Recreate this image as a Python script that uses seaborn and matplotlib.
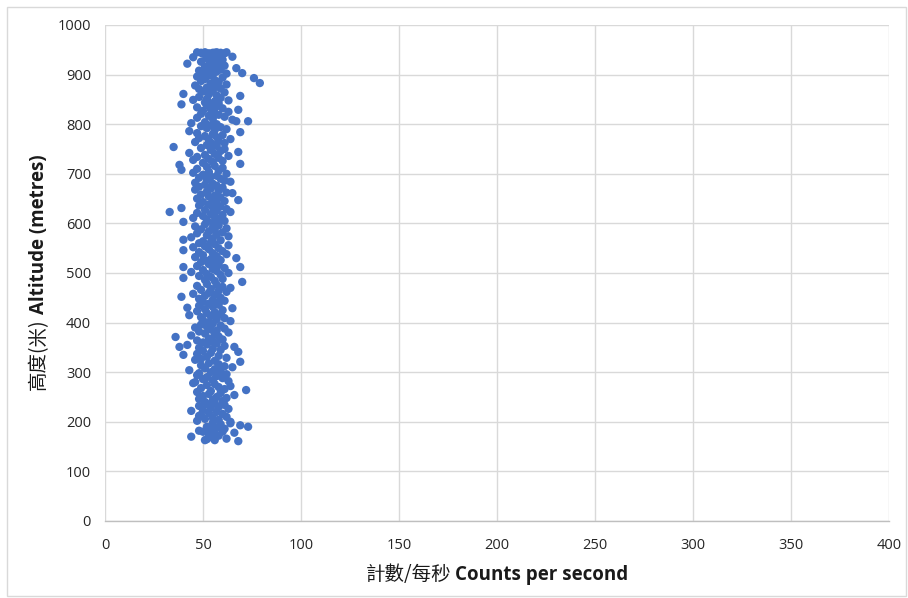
import matplotlib
matplotlib.use("Agg")
import matplotlib.pyplot as plt
import seaborn as sns
import pandas as pd
from matplotlib.patches import Rectangle

# ---------------- data ----------------
altitude_m = [
    # 930-946
    945, 944, 945, 943, 944, 945, 944, 943, 945, 944, 942, 941, 938, 936, 935, 933, 930, 931,
    # 900-929
    928, 926, 923, 922, 920, 918, 916, 914, 913, 912, 910, 908, 906, 905, 903, 902, 900, 901,
    # 870-899
    898, 896, 894, 893, 891, 889, 887, 885, 883, 882, 880, 878, 876, 874, 872, 871,
    # 840-869
    868, 866, 864, 861, 860, 858, 857, 855, 853, 851, 849, 848, 846, 844, 842, 840, 841,
    # 800-839
    838, 836, 834, 832, 830, 829, 827, 825, 823, 821, 819, 817, 815, 813, 811, 809, 806, 806, 804, 802, 800,
    # 760-799
    798, 796, 794, 792, 790, 788, 786, 784, 782, 780, 778, 776, 774, 772, 770, 768, 766, 764, 762, 760,
    # 720-759
    758, 756, 754, 752, 750, 748, 746, 744, 742, 740, 738, 736, 734, 732, 730, 728, 726, 724, 722, 720,
    # 680-719
    718, 716, 714, 712, 710, 708, 706, 704, 702, 700, 698, 696, 694, 692, 690, 688, 686, 684, 682, 680,
    # 640-679
    678, 676, 674, 672, 670, 668, 666, 664, 662, 661, 658, 656, 654, 652, 650, 648, 647, 645, 643, 641,
    # 600-639
    638, 636, 634, 632, 631, 629, 627, 625, 623, 623, 621, 619, 617, 615, 613, 611, 609, 607, 605, 603, 601,
    # 560-599
    598, 596, 594, 592, 590, 588, 586, 584, 582, 580, 578, 576, 574, 572, 570, 567, 566, 564, 562, 560,
    # 520-559
    558, 556, 554, 552, 550, 548, 546, 544, 542, 540, 538, 536, 534, 532, 530, 528, 526, 524, 522, 520,
    # 480-519
    518, 516, 514, 512, 512, 510, 508, 506, 504, 502, 500, 498, 496, 494, 492, 490, 488, 486, 484, 482,
    # 440-479
    478, 476, 474, 472, 470, 468, 466, 464, 462, 460, 458, 456, 454, 452, 450, 448, 446, 444, 442, 440,
    # 400-439
    438, 436, 434, 432, 430, 429, 427, 425, 423, 421, 419, 417, 415, 413, 411, 409, 407, 405, 403, 401,
    # 360-399
    398, 396, 394, 392, 390, 388, 386, 384, 382, 380, 378, 376, 374, 372, 371, 368, 366, 364, 362, 360,
    # 320-359
    358, 356, 355, 353, 351, 351, 349, 347, 345, 343, 341, 339, 337, 335, 333, 331, 329, 327, 325, 323, 321,
    # 280-319
    318, 316, 314, 312, 310, 308, 306, 304, 302, 300, 298, 296, 294, 292, 290, 288, 286, 284, 282, 280,
    # 240-279
    278, 276, 274, 272, 270, 268, 266, 264, 262, 260, 258, 256, 254, 252, 250, 248, 246, 244, 242, 240,
    # 200-239
    238, 236, 234, 232, 230, 228, 226, 224, 222, 220, 218, 216, 214, 212, 210, 208, 206, 204, 202, 200,
    # 160-199
    198, 197, 195, 193, 190, 190, 188, 186, 184, 182, 180, 180, 178, 177, 175, 172, 170, 168, 166, 165, 163, 163, 161,
]

counts_per_second = [
    47, 49, 51, 53, 55, 57, 59, 61, 62, 56, 50, 54, 58, 65, 45, 52, 60, 56,
    55, 49, 58, 42, 53, 61, 51, 56, 67, 54, 59, 48, 57, 52, 70, 62, 55, 50,
    53, 47, 60, 76, 51, 56, 49, 58, 79, 54, 62, 46, 57, 52, 59, 48,
    55, 50, 61, 40, 53, 57, 69, 48, 59, 52, 45, 63, 56, 51, 58, 39, 54,
    52, 57, 47, 60, 54, 68, 50, 63, 56, 49, 58, 53, 61, 47, 55, 65, 73, 67, 51, 44, 57,
    54, 49, 59, 52, 62, 56, 43, 69, 47, 55, 60, 51, 57, 48, 64, 53, 58, 46, 61, 55,
    52, 57, 35, 49, 61, 54, 59, 68, 43, 56, 51, 63, 47, 58, 53, 45, 60, 55, 50, 69,
    38, 56, 52, 60, 47, 39, 58, 53, 45, 62, 50, 57, 54, 48, 59, 52, 61, 64, 46, 55,
    51, 57, 48, 60, 54, 46, 58, 52, 62, 65, 49, 56, 53, 59, 47, 55, 68, 61, 50, 57,
    53, 48, 59, 55, 39, 62, 51, 57, 33, 64, 47, 54, 60, 50, 56, 45, 58, 52, 61, 40, 55,
    51, 58, 46, 55, 62, 49, 56, 53, 60, 47, 57, 52, 63, 44, 55, 40, 59, 50, 54, 48,
    56, 63, 51, 45, 58, 53, 40, 60, 48, 55, 62, 50, 57, 46, 67, 54, 59, 52, 49, 56,
    53, 58, 47, 40, 69, 61, 55, 50, 57, 44, 63, 52, 59, 48, 54, 40, 60, 51, 56, 70,
    52, 57, 47, 60, 64, 54, 49, 58, 62, 53, 45, 56, 51, 39, 59, 48, 55, 61, 50, 57,
    53, 58, 48, 55, 42, 65, 51, 60, 47, 56, 52, 59, 43, 54, 49, 61, 57, 50, 64, 53,
    55, 49, 59, 52, 46, 61, 54, 57, 48, 63, 51, 56, 44, 58, 36, 53, 60, 47, 55, 50,
    57, 52, 42, 61, 38, 66, 48, 55, 59, 50, 68, 54, 47, 40, 58, 52, 62, 49, 46, 56, 69,
    53, 58, 49, 61, 65, 51, 56, 43, 59, 54, 48, 62, 47, 57, 52, 60, 50, 55, 63, 46,
    45, 56, 52, 64, 58, 49, 61, 72, 54, 47, 59, 53, 66, 50, 57, 62, 48, 55, 60, 51,
    56, 52, 61, 48, 58, 54, 63, 50, 44, 57, 53, 60, 49, 48, 62, 55, 51, 58, 47, 64,
    55, 64, 59, 69, 73, 52, 57, 61, 54, 48, 50, 60, 66, 56, 53, 58, 44, 55, 62, 52, 51, 56, 68,
]

x_ticks = [0, 50, 100, 150, 200, 250, 300, 350, 400]
y_ticks = [0, 100, 200, 300, 400, 500, 600, 700, 800, 900, 1000]
x_label_cjk = "計數/每秒"
x_label_en = "Counts per second"
y_label_cjk = "高度(米)"
y_label_en = "Altitude (metres)"

df = pd.DataFrame({"counts": counts_per_second, "altitude": altitude_m})

# ---------------- style ----------------
sns.set_theme(style="white")
FAM = ["Open Sans", "Noto Sans CJK TC", "DejaVu Sans"]
CJK = ["Noto Sans CJK TC", "DejaVu Sans"]
plt.rcParams["font.family"] = FAM

W, H = 908, 598
fig = plt.figure(figsize=(W / 100, H / 100), dpi=100)
ax = fig.add_axes([105 / W, 1 - 521 / H, (889 - 105) / W, (521 - 25) / H])

sns.scatterplot(data=df, x="counts", y="altitude", ax=ax, color="#4472C4",
                s=36, edgecolor="none", linewidth=0, zorder=3)

ax.set_xlim(0, 400)
ax.set_ylim(0, 1000)
ax.set_xticks(x_ticks)
ax.set_yticks(y_ticks)
ax.set_xticklabels([str(v) for v in x_ticks])
ax.set_yticklabels([str(v) for v in y_ticks])
ax.grid(True, color="#d9d9d9", linewidth=1.0, zorder=0)
ax.set_axisbelow(True)
for side in ["top", "right", "left"]:
    ax.spines[side].set_visible(False)
ax.spines["bottom"].set_color("#bfbfbf")
ax.spines["bottom"].set_linewidth(1.0)
ax.tick_params(axis="both", length=0, labelsize=10.5, colors="#262626", pad=10)
ax.tick_params(axis="x", pad=12)
ax.set_xlabel("")
ax.set_ylabel("")

# figure frame
fig.patches.append(Rectangle((7 / W, 2 / H), (W - 9) / W, (H - 9) / H,
                             transform=fig.transFigure, fill=False,
                             edgecolor="#d9d9d9", linewidth=1.0))

# ---------------- two-part axis titles ----------------
fig.canvas.draw()
r = fig.canvas.get_renderer()


def two_part(cx, cy, p1, p2, rotation=0, size1=14, size2=13.5):
    t1 = fig.text(0, 0, p1, fontsize=size1, family=CJK, color="#1a1a1a",
                  rotation=rotation, rotation_mode="anchor", ha="left", va="baseline")
    t2 = fig.text(0, 0, p2, fontsize=size2, family=FAM, weight="bold", color="#1a1a1a",
                  rotation=rotation, rotation_mode="anchor", ha="left", va="baseline")
    e1 = t1.get_window_extent(r)
    e2 = t2.get_window_extent(r)
    gap = 4
    if rotation == 0:
        total = e1.width + gap + e2.width
        sx = cx - total / 2
        t1.set_position((sx / W, 1 - cy / H))
        t2.set_position(((sx + e1.width + gap) / W, 1 - cy / H))
    else:
        total = e1.height + gap + e2.height
        sy = cy + total / 2
        t1.set_position((cx / W, 1 - sy / H))
        t2.set_position((cx / W, 1 - (sy - e1.height - gap) / H))


two_part(497, 580, x_label_cjk, x_label_en, rotation=0)
two_part(44, 272, y_label_cjk, y_label_en, rotation=90)

fig.savefig("out.png", dpi=100)
